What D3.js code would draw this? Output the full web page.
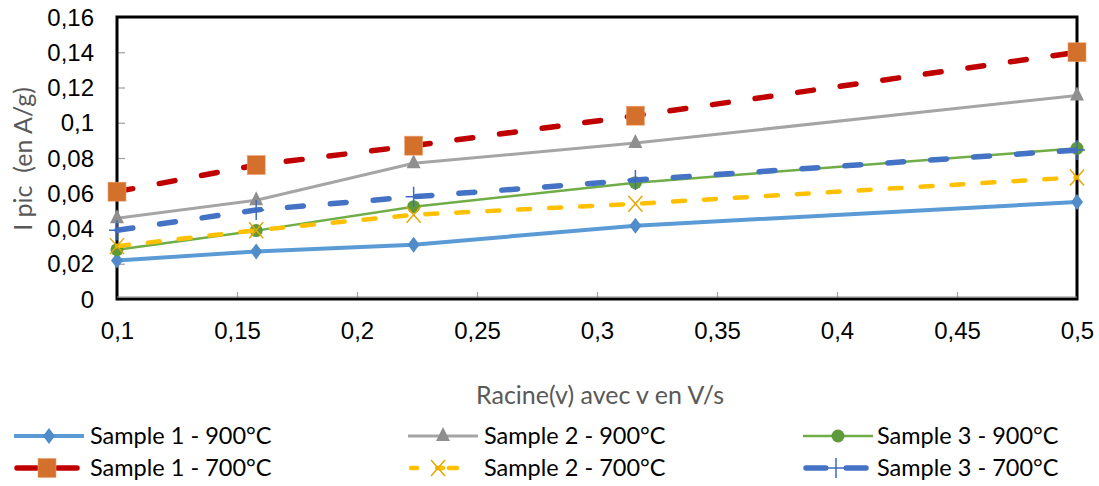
<!DOCTYPE html>
<html>
<head>
<meta charset="utf-8">
<script src="https://cdn.jsdelivr.net/npm/d3@7"></script>
<style>
  html, body { margin: 0; padding: 0; background: #fff; }
  svg { display: block; font-family: Lato, "Open Sans", sans-serif; }
</style>
</head>
<body>
<svg id="chart" width="1099" height="486"></svg>
<script>
// ---- data ----
const xValues = [0.1, 0.158, 0.2236, 0.316, 0.5];
const s1_900 = [0.0218, 0.0270, 0.0308, 0.0416, 0.0550];
const s2_900 = [0.0458, 0.0560, 0.0770, 0.0885, 0.1155];
const s3_900 = [0.0280, 0.0388, 0.0524, 0.0660, 0.0855];
const s1_700 = [0.0609, 0.0760, 0.0870, 0.1040, 0.1400];
const s2_700 = [0.0300, 0.0390, 0.0478, 0.0540, 0.0690];
const s3_700 = [0.0390, 0.0505, 0.0580, 0.0675, 0.0845];
const seriesNames = ["Sample 1 - 900°C", "Sample 2 - 900°C", "Sample 3 - 900°C",
                     "Sample 1 - 700°C", "Sample 2 - 700°C", "Sample 3 - 700°C"];
const xTicks = [0.1, 0.15, 0.2, 0.25, 0.3, 0.35, 0.4, 0.45, 0.5];
const yTicks = [0, 0.02, 0.04, 0.06, 0.08, 0.1, 0.12, 0.14, 0.16];
const xTitle = "Racine(v) avec v en V/s";
const yTitle = "I pic  (en A/g)";

// ---- styles ----
const styles = [
  { color: "#5B9BD5", width: 4,   dash: null,    marker: "diamond",  mcolor: "#4F8CC9" },
  { color: "#A5A5A5", width: 3,   dash: null,    marker: "triangle", mcolor: "#8F8F8F" },
  { color: "#70AD47", width: 2.5, dash: null,    marker: "circle",   mcolor: "#5F9A3A" },
  { color: "#C00000", width: 5.5, dash: "16 27", marker: "square",   mcolor: "#D2702C" },
  { color: "#FFC000", width: 4.5, dash: "12 19", marker: "x",        mcolor: "#E8A600" },
  { color: "#4472C4", width: 5.5, dash: "16 27", marker: "plus",     mcolor: "#3E6BC0" }
];
const seriesData = [s1_900, s2_900, s3_900, s1_700, s2_700, s3_700];

const svg = d3.select("#chart");
const x = d3.scaleLinear().domain([0.1, 0.5]).range([117, 1077]);
const y = d3.scaleLinear().domain([0, 0.16]).range([299, 17]);
const fmt = d => String(+d.toFixed(3)).replace(".", ",");

// axes (ticks inside, gray)
const xAxis = svg.append("g").attr("transform", `translate(0,${y(0)})`)
  .call(d3.axisBottom(x).tickValues(xTicks).tickSize(-7).tickPadding(26).tickFormat(fmt));
const yAxis = svg.append("g").attr("transform", `translate(${x(0.1)},0)`)
  .call(d3.axisLeft(y).tickValues(yTicks).tickSize(-8).tickPadding(23).tickFormat(fmt));
[xAxis, yAxis].forEach(a => {
  a.select(".domain").remove();
  a.selectAll(".tick line").attr("stroke", "#A6A6A6").attr("stroke-width", 1.3);
  a.selectAll(".tick text").attr("fill", "#000").style("font-size", "24px");
});
xAxis.selectAll(".tick text").attr("dy", "0.6em");
yAxis.selectAll(".tick text").attr("dy", "0.34em");

// frame
svg.append("rect")
  .attr("x", x(0.1)).attr("y", y(0.16))
  .attr("width", x(0.5) - x(0.1)).attr("height", y(0) - y(0.16))
  .attr("fill", "none").attr("stroke", "#000").attr("stroke-width", 3);
svg.append("line").attr("x1", x(0.1)).attr("x2", x(0.5)).attr("y1", y(0) - 2).attr("y2", y(0) - 2)
  .attr("stroke", "#8C8C8C").attr("stroke-width", 1.2);

// titles
svg.append("text").attr("x", 600).attr("y", 404).attr("text-anchor", "middle")
  .attr("fill", "#595959").style("font-size", "25px").text(xTitle);
svg.append("text").attr("transform", "translate(32,159) rotate(-90)").attr("text-anchor", "middle")
  .attr("fill", "#595959").style("font-size", "25px").style("white-space", "pre").text(yTitle);

// marker drawing
function drawMarker(g, type, cx, cy, col) {
  if (type === "diamond") {
    g.append("path").attr("d", `M${cx},${cy - 8}L${cx + 6},${cy}L${cx},${cy + 8}L${cx - 6},${cy}Z`).attr("fill", col);
  } else if (type === "triangle") {
    g.append("path").attr("d", `M${cx},${cy - 9}L${cx + 7},${cy + 5}L${cx - 7},${cy + 5}Z`).attr("fill", col);
  } else if (type === "circle") {
    g.append("circle").attr("cx", cx).attr("cy", cy).attr("r", 6.5).attr("fill", col);
  } else if (type === "square") {
    g.append("rect").attr("x", cx - 9).attr("y", cy - 9.5).attr("width", 18).attr("height", 19)
      .attr("fill", col).attr("stroke", "#F0A070").attr("stroke-width", 0.6);
  } else if (type === "x") {
    g.append("path").attr("d", `M${cx - 7},${cy - 8}L${cx + 7},${cy + 8}M${cx + 7},${cy - 8}L${cx - 7},${cy + 8}`)
      .attr("stroke", col).attr("stroke-width", 1.5).attr("fill", "none");
  } else if (type === "plus") {
    g.append("path").attr("d", `M${cx},${cy - 10}L${cx},${cy + 10}M${cx - 8},${cy}L${cx + 8},${cy}`)
      .attr("stroke", col).attr("stroke-width", 1.5).attr("fill", "none");
  }
}

// series
const line = d3.line().x(d => x(d[0])).y(d => y(d[1]));
seriesData.forEach((vals, i) => {
  const st = styles[i];
  const pts = xValues.map((xv, k) => [xv, vals[k]]);
  const g = svg.append("g");
  g.append("path").datum(pts).attr("d", line)
    .attr("fill", "none").attr("stroke", st.color).attr("stroke-width", st.width)
    .attr("stroke-linecap", st.dash ? "round" : "butt").attr("stroke-linejoin", "round")
    .attr("stroke-dasharray", st.dash);
  pts.forEach(p => drawMarker(g, st.marker, x(p[0]), y(p[1]), st.mcolor));
});

// legend
const legCols = [14, 408, 803];
const legRows = [436, 468];
const legText = [90, 484, 877];
seriesNames.forEach((name, i) => {
  const st = styles[i];
  const col = i % 3, row = Math.floor(i / 3);
  const lx = legCols[col], ly = legRows[row];
  const g = svg.append("g");
  let x1 = lx, x2 = lx + 70;
  if (i === 4) { x2 = lx + 52; }
  if (i === 3 || i === 5) { x2 = lx + 66; }
  const lp = g.append("path").attr("d", `M${x1 + (st.dash ? 3 : 0)},${ly}L${x2 - (st.dash ? 3 : 0)},${ly}`)
    .attr("stroke", st.color).attr("stroke-width", st.width)
    .attr("stroke-linecap", st.dash ? "round" : "butt").attr("fill", "none");
  if (st.dash) {
    const len = x2 - x1 - 6;
    if (i === 4) lp.attr("stroke-dasharray", "6 20 6");
    else lp.attr("stroke-dasharray", `${len * 0.33} ${len * 0.34} ${len * 0.33}`);
  }
  const mx = i === 4 ? lx + 30 : (x1 + x2) / 2;
  drawMarker(g, st.marker, mx, ly, st.mcolor);
  g.append("text").attr("x", legText[col]).attr("y", ly + 8).attr("fill", "#000")
    .style("font-size", "23.5px").text(name);
});
</script>
</body>
</html>
